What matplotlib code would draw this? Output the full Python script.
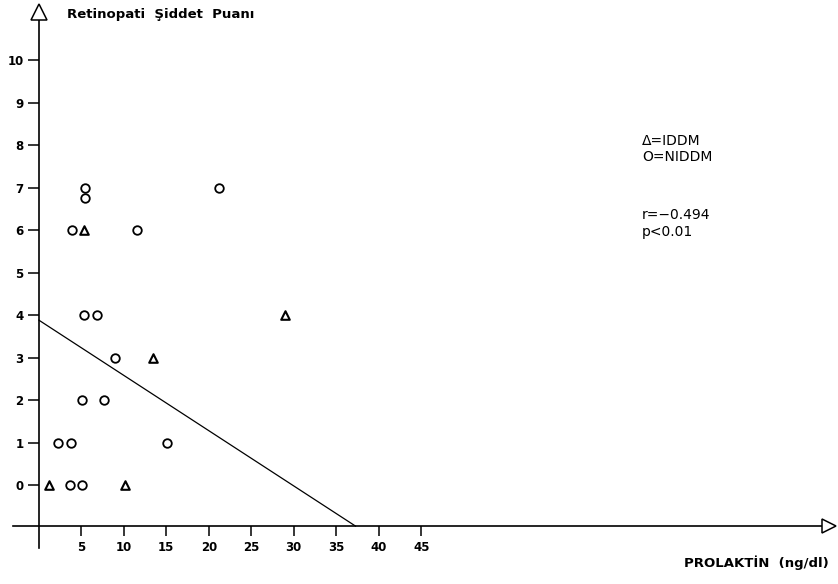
import matplotlib
matplotlib.use("Agg")
import matplotlib.pyplot as plt
import numpy as np

# ---- data ----
niddm_x = [5.3, 6.8, 9.0, 5.1, 7.7, 2.3, 3.8, 15.1, 3.7, 5.1, 5.4, 5.4, 21.2, 3.9, 11.5]
niddm_y = [4, 4, 3, 2, 2, 1, 1, 1, 0, 0, 7, 6.75, 7, 6, 6]
iddm_x = [13.4, 1.2, 10.1, 5.3, 29.0]
iddm_y = [3, 0, 0, 6, 4]

reg_intercept = 3.88
reg_slope = -0.130

x_ticks = [5, 10, 15, 20, 25, 30, 35, 40, 45]
y_ticks = [0, 1, 2, 3, 4, 5, 6, 7, 8, 9, 10]

title_text = "Retinopati  Şiddet  Puanı"
xlabel_text = "PROLAKTİN  (ng/dl)"
legend_lines = ["Δ=IDDM", "O=NIDDM"]
stat_lines = ["r=−0.494", "p<0.01"]

# ---- layout ----
W, H = 838, 584
fig = plt.figure(figsize=(W / 100, H / 100), dpi=100)
left_px, right_px, top_px, bottom_px = 13, 829, 12, 548
ax = fig.add_axes([left_px / W, (H - bottom_px) / H,
                   (right_px - left_px) / W, (bottom_px - top_px) / H])

x_axis_y = -0.965
ax.set_xlim(-3.05, 93.0)
ax.set_ylim(-1.48, 11.13)

for s in ["top", "right"]:
    ax.spines[s].set_visible(False)
ax.spines["left"].set_position(("data", 0))
ax.spines["bottom"].set_position(("data", x_axis_y))
for s in ["left", "bottom"]:
    ax.spines[s].set_linewidth(1.2)

ax.set_xticks(x_ticks)
ax.set_yticks(y_ticks)
ax.set_xticklabels([str(t) for t in x_ticks], fontweight="bold", fontsize=8.5)
ax.set_yticklabels([str(t) for t in y_ticks], fontweight="bold", fontsize=8.5)
ax.tick_params(axis="x", direction="out", length=7, width=1.1, pad=4)
ax.tick_params(axis="y", direction="out", length=8, width=1.1, pad=3)

# arrow heads
ax.plot([1], [x_axis_y], marker=">", markersize=10.5, markerfacecolor="white",
        markeredgecolor="black", markeredgewidth=1.1,
        transform=ax.get_yaxis_transform(), clip_on=False, zorder=5)
ax.plot([0], [1], marker="^", markersize=11, markerfacecolor="white",
        markeredgecolor="black", markeredgewidth=1.1,
        transform=ax.get_xaxis_transform(), clip_on=False, zorder=5)

# regression line: from x=0 to where it meets the x axis line
x_end = (x_axis_y - reg_intercept) / reg_slope
xs = np.array([0.0, x_end])
ax.plot(xs, reg_intercept + reg_slope * xs, color="black", linewidth=0.9)

# points
ax.scatter(niddm_x, niddm_y, marker="o", s=38, facecolors="white",
           edgecolors="black", linewidths=1.3, zorder=4)
ax.scatter(iddm_x, iddm_y, marker="^", s=38, facecolors="white",
           edgecolors="black", linewidths=1.5, zorder=4)

# texts
ax.text(3.3, 11.06, title_text, ha="left", va="center", fontsize=9.5,
        fontweight="bold", clip_on=False)
ax.text(93.0, -1.83, xlabel_text, ha="right", va="center", fontsize=9.5,
        fontweight="bold", clip_on=False)
ax.text(71.0, 8.1, legend_lines[0], ha="left", va="center", fontsize=10)
ax.text(71.0, 7.72, legend_lines[1], ha="left", va="center", fontsize=10)
ax.text(71.0, 6.35, stat_lines[0], ha="left", va="center", fontsize=10)
ax.text(71.0, 5.95, stat_lines[1], ha="left", va="center", fontsize=10)

fig.savefig("out.png", dpi=100)
